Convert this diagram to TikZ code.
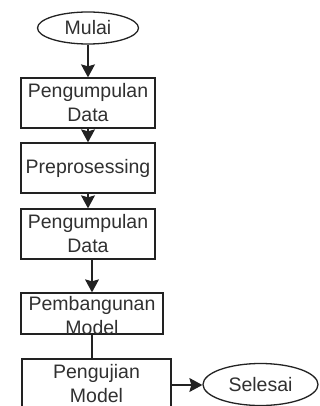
\documentclass[tikz,border=0pt]{standalone}
\usepackage{fontspec}
\setmainfont{Liberation Sans}
\usetikzlibrary{shapes.geometric,arrows.meta}
\definecolor{ln}{HTML}{222222}
\definecolor{tx}{HTML}{303030}
\begin{document}
\begin{tikzpicture}[x=1pt,y=-1pt,
  box/.style={draw=ln,line width=1.3pt,rectangle,inner sep=0pt},
  term/.style={draw=ln,line width=1.3pt,ellipse,inner sep=0pt},
  lbl/.style={text=tx,font=\fontsize{19.5}{24}\selectfont,align=center,inner sep=0pt},
  arr/.style={draw=ln,line width=1.3pt,-{Stealth[length=13pt,width=14pt,inset=2pt]}},
  con/.style={draw=ln,line width=1.3pt}]
\useasboundingbox (0,0) rectangle (320,406);
\node[term,minimum width=101pt,minimum height=32pt] (start) at (88,28) {};
\node[lbl] (tstart) at (88,28) {Mulai};
\node[box,minimum width=134pt,minimum height=50pt] (b1) at (88,103) {};
\node[lbl] (t1) at (88,103) {Pengumpulan\\Data};
\node[box,minimum width=134pt,minimum height=50pt] (b2) at (88,168) {};
\node[lbl] (t2) at (88,168) {Preprosessing};
\node[box,minimum width=134pt,minimum height=50pt] (b3) at (88,234) {};
\node[lbl] (t3) at (88,234) {Pengumpulan\\Data};
\node[box,minimum width=142pt,minimum height=41pt] (b4) at (92,313.5) {};
\node[lbl] (t4) at (92,316) {Pembangunan\\Model};
\node[box,minimum width=149pt,minimum height=52pt] (b5) at (96.5,385) {};
\node[lbl] (t5) at (96.5,384) {Pengujian\\Model};
\node[term,minimum width=115pt,minimum height=42pt] (end) at (260.5,384.5) {};
\node[lbl] (tend) at (260.5,384.5) {Selesai};
\draw[arr] (start.south) -- (b1.north);
\draw[arr] (b1.south) -- (b2.north);
\draw[arr] (b2.south) -- (b3.north);
\draw[arr] (b3.south -| b4.north) -- (b4.north);
\draw[con] (b4.south) -- (b4.south |- b5.north);
\draw[arr] (b5.east) -- (b5.east -| end.west);
\end{tikzpicture}
\end{document}
